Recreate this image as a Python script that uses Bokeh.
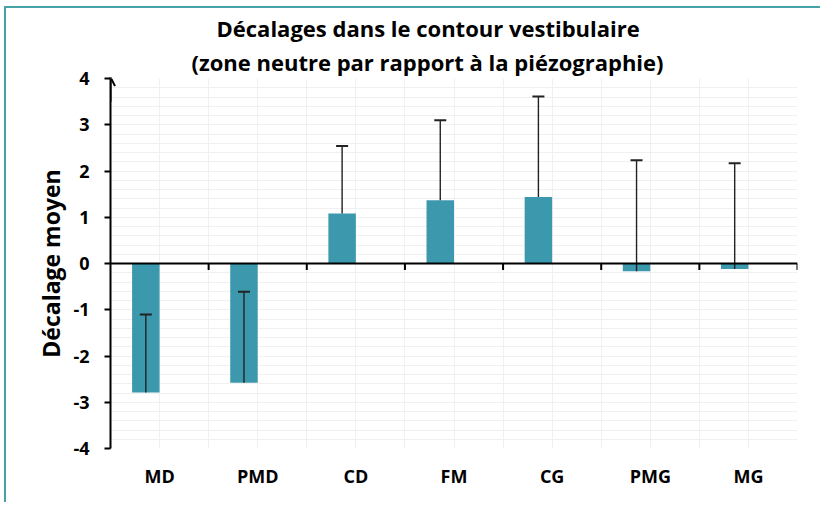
from bokeh.plotting import figure
from bokeh.models import (ColumnDataSource, FactorRange, Range1d, FixedTicker, Span,
                          Whisker, TeeHead, Arrow, OpenHead, Title)
from bokeh.transform import dodge
from bokeh.embed import file_html
from bokeh.resources import INLINE

# ---- data ----
categories = ["MD", "PMD", "CD", "FM", "CG", "PMG", "MG"]
mean_shift = [-2.79, -2.58, 1.08, 1.37, 1.44, -0.17, -0.12]
std_dev = [1.69, 1.97, 1.46, 1.73, 2.17, 2.40, 2.29]
y_ticks = [-4, -3, -2, -1, 0, 1, 2, 3, 4]

title_1 = "Décalages dans le contour vestibulaire"
title_2 = "(zone neutre par rapport à la piézographie)"
y_title = "Décalage moyen"

BAR = "#3b98ad"
FRAME = "#45a3a8"
FONT = "Open Sans"

upper = [m + s for m, s in zip(mean_shift, std_dev)]
src = ColumnDataSource(dict(cat=categories, mean=mean_shift, upper=upper))

p = figure(width=816, height=496, output_backend="svg", toolbar_location=None,
           x_range=FactorRange(*categories), y_range=Range1d(-4, 4),
           min_border_left=104, min_border_right=25, min_border_top=70,
           min_border_bottom=56)
p.styles = {"border-left": f"2px solid {FRAME}", "border-top": f"2px solid {FRAME}",
            "margin-left": "4px", "margin-top": "6px"}
p.outline_line_color = None
p.background_fill_color = "white"

# titles (p.title is the outer line, the added Title sits next to the frame)
p.title.text = title_1
p.title.align = "left"
p.title.offset = 106
p.title.text_font = FONT
p.title.text_font_style = "bold"
p.title.text_font_size = "22px"
p.title.text_color = "black"
p.title.standoff = -1
p.add_layout(Title(text=title_2, align="left", offset=81, text_font=FONT,
                   text_font_style="bold", text_font_size="22px", text_color="black",
                   standoff=4), "above")

# grid
n = len(categories)
p.xgrid.ticker = FixedTicker(ticks=[i / 2 for i in range(1, 2 * n + 1)])
p.xgrid.grid_line_color = "#f0f0f0"
p.ygrid.ticker = FixedTicker(ticks=[round(-4 + 0.2 * i, 1) for i in range(41)])
p.ygrid.grid_line_color = "#f0f0f0"

# bars
bar_x = dodge("cat", -0.14, range=p.x_range)
p.vbar(x=bar_x, top="mean", bottom=0, width=0.28, source=src,
       fill_color=BAR, line_color=None)

# error bars (upper only), drawn over the bars
wh = Whisker(source=src, base=bar_x, lower="mean", upper="upper", level="annotation",
             line_color="#222222", line_width=1.4, lower_head=None,
             upper_head=TeeHead(size=12, line_color="#222222", line_width=2))
p.add_layout(wh)

# zero axis line with ticks at category boundaries
p.add_layout(Span(location=0, dimension="width", line_color="black", line_width=2))
bounds = list(range(1, n + 1))
p.segment(x0=bounds, x1=bounds, y0=[0] * n, y1=[-0.14] * n, line_color="black", line_width=2)

# y axis
ya = p.yaxis[0]
ya.ticker = FixedTicker(ticks=y_ticks)
ya.major_label_overrides = {t: str(t) for t in y_ticks}
ya.axis_line_width = 2
ya.axis_line_color = "black"
ya.major_tick_line_width = 2
ya.major_tick_in = 0
ya.major_tick_out = 6
ya.minor_tick_line_color = None
ya.major_label_text_font = FONT
ya.major_label_text_font_style = "bold"
ya.major_label_text_font_size = "18px"
ya.major_label_text_color = "black"
ya.major_label_standoff = 15
ya.axis_label = y_title
ya.axis_label_text_font = FONT
ya.axis_label_text_font_style = "bold"
ya.axis_label_text_font_size = "23px"
ya.axis_label_text_color = "black"
ya.axis_label_standoff = 3

p.add_layout(Arrow(end=OpenHead(size=9, line_width=2, line_color="black"),
                   x_start=0, y_start=3.5, x_end=0, y_end=4.03,
                   line_width=2, line_color="black"))

# x axis labels
xa = p.xaxis[0]
xa.axis_line_color = None
xa.major_tick_line_color = None
xa.minor_tick_line_color = None
xa.major_label_standoff = 9
xa.major_label_text_font = FONT
xa.major_label_text_font_style = "bold"
xa.major_label_text_font_size = "18px"
xa.major_label_text_color = "black"

open("out.html", "w").write(file_html(p, INLINE))
